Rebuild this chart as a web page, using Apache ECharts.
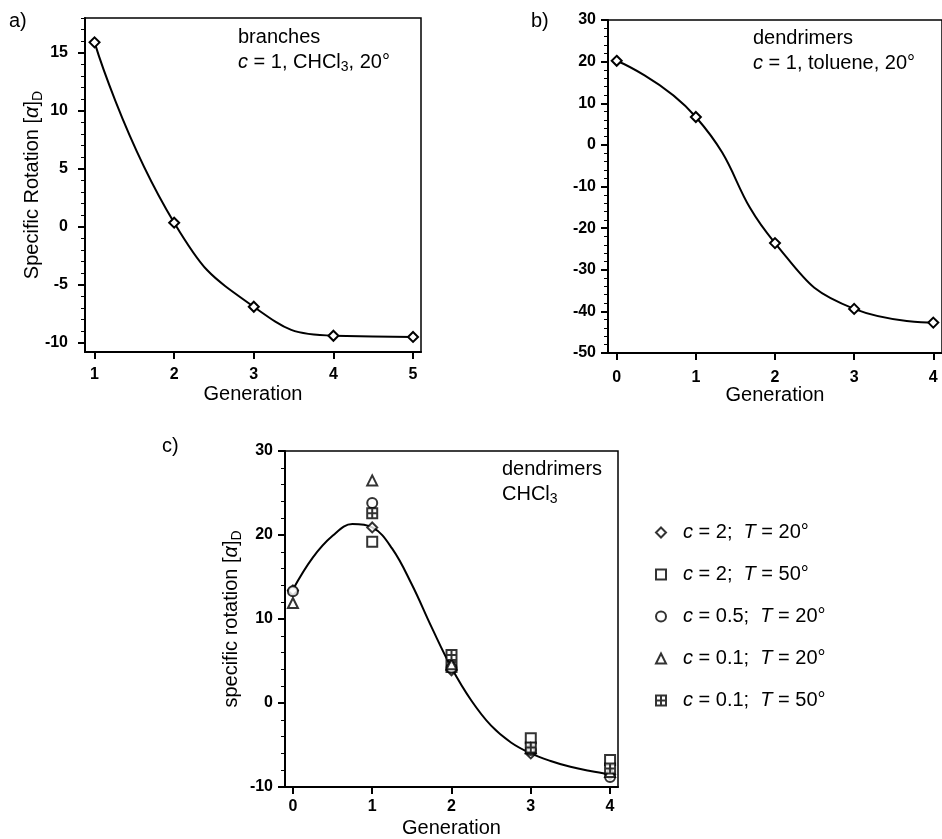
<!DOCTYPE html>
<html>
<head>
<meta charset="utf-8">
<script src="https://cdn.jsdelivr.net/npm/echarts@6/dist/echarts.min.js"></script>
<style>
html,body{margin:0;padding:0;background:#fff;}
#chart{width:942px;height:839px;}
</style>
</head>
<body>
<div id="chart"></div>
<script>
// ---------- Data ----------
// Panel a: branches, c = 1, CHCl3, 20°
const aGen = [1, 2, 3, 4, 5];
const aRot = [15.9, 0.35, -6.9, -9.4, -9.5];
// Panel b: dendrimers, c = 1, toluene, 20°
const bGen = [0, 1, 2, 3, 4];
const bRot = [20.2, 6.7, -23.6, -39.4, -42.7];
// Panel c: dendrimers, CHCl3
const cGen = [0, 1, 2, 3, 4];
const cC2T20 = [13.4, 20.9, 3.9, -6.0, -8.5];
const cC2T50 = [null, 19.2, 4.3, -4.2, -6.8];
const cC05T20 = [13.3, 23.8, 4.2, -5.6, -8.8];
const cC01T20 = [11.9, 26.5, 4.6, -5.4, -8.2];
const cC01T50 = [null, 22.6, 5.7, -5.3, -7.8];
// fitted curve of panel c
const cCurveX = [0, 0.25, 0.5, 0.75, 1.0, 1.25, 1.5, 1.75, 2.0, 2.25, 2.5, 2.75, 3.0, 3.25, 3.5, 3.75, 4.0];
const cCurveY = [13.5, 17.3, 19.9, 21.3, 20.9, 18.4, 14.1, 9.0, 4.2, 0.3, -2.7, -4.7, -6.0, -6.9, -7.6, -8.1, -8.5];
// legend
const legendConc = ['2', '2', '0.5', '0.1', '0.1'];
const legendTemp = ['20', '50', '20', '20', '50'];
const legendNames = ['c = 2; T = 20°', 'c = 2; T = 50°', 'c = 0.5; T = 20°', 'c = 0.1; T = 20°', 'c = 0.1; T = 50°'];
// ticks
const aXTicks = [1, 2, 3, 4, 5];
const aYTicks = [-10, -5, 0, 5, 10, 15];
const aYMinor = [-10, -9, -8, -7, -6, -5, -4, -3, -2, -1, 0, 1, 2, 3, 4, 5, 6, 7, 8, 9, 10, 11, 12, 13, 14, 15, 16, 17, 18];
const bXTicks = [0, 1, 2, 3, 4];
const bYTicks = [-50, -40, -30, -20, -10, 0, 10, 20, 30];
const bYMinor = [-50, -48, -46, -44, -42, -40, -38, -36, -34, -32, -30, -28, -26, -24, -22, -20, -18, -16, -14, -12, -10, -8, -6, -4, -2, 0, 2, 4, 6, 8, 10, 12, 14, 16, 18, 20, 22, 24, 26, 28, 30];
const cXTicks = [0, 1, 2, 3, 4];
const cYTicks = [-10, 0, 10, 20, 30];
const cYMinor = [-10, -8, -6, -4, -2, 0, 2, 4, 6, 8, 10, 12, 14, 16, 18, 20, 22, 24, 26, 28, 30];

// ---------- Styles ----------
const FONT = '"Liberation Sans", Arial, Helvetica, sans-serif';
const black = '#000';
const labelStyle = { color: black, fontFamily: FONT, fontWeight: 'bold', fontSize: 16 };
const subRich = {
  n: { fontFamily: FONT, fontSize: 20, lineHeight: 25, color: black },
  i: { fontFamily: FONT, fontSize: 20, lineHeight: 25, fontStyle: 'italic', color: black },
  s: { fontFamily: FONT, fontSize: 14, lineHeight: 14, verticalAlign: 'bottom', color: black }
};
const gfxRich = {
  n: { fontFamily: FONT, fontSize: 20, lineHeight: 25, fill: black },
  i: { fontFamily: FONT, fontSize: 20, lineHeight: 25, fontStyle: 'italic', fill: black },
  s: { fontFamily: FONT, fontSize: 14, lineHeight: 14, verticalAlign: 'bottom', fill: black }
};

function xAxis(grid, min, max, ticks, margin, name, nameGap) {
  return {
    type: 'value', gridIndex: grid, min: min, max: max,
    axisLine: { show: true, onZero: false, lineStyle: { color: black, width: 2 } },
    axisTick: { show: true, customValues: ticks, length: 7, lineStyle: { color: black, width: 2 } },
    axisLabel: Object.assign({ customValues: ticks, margin: margin }, labelStyle),
    splitLine: { show: false },
    name: name, nameLocation: 'middle', nameGap: nameGap, nameMoveOverlap: false,
    nameTextStyle: { color: black, fontFamily: FONT, fontSize: 20 }
  };
}
function yAxis(grid, min, max, ticks, margin, name, nameGap) {
  return {
    type: 'value', gridIndex: grid, min: min, max: max,
    axisLine: { show: true, onZero: false, lineStyle: { color: black, width: 2 } },
    axisTick: { show: true, customValues: ticks, length: 7, lineStyle: { color: black, width: 2 } },
    axisLabel: Object.assign({ customValues: ticks, margin: margin }, labelStyle),
    splitLine: { show: false },
    name: name, nameLocation: 'middle', nameGap: nameGap, nameRotate: 90, nameMoveOverlap: false,
    nameTextStyle: { color: black, fontFamily: FONT, fontSize: 20, rich: subRich }
  };
}
function yMinor(grid, min, max, ticks) {
  return {
    type: 'value', gridIndex: grid, min: min, max: max, position: 'left',
    axisLine: { show: false, onZero: false },
    axisTick: { show: true, customValues: ticks, length: 4, lineStyle: { color: black, width: 1 } },
    axisLabel: { show: false },
    splitLine: { show: false }
  };
}
const markStyle = { color: '#fff', borderColor: black, borderWidth: 2 };
const crossSquare = 'path://M0,0L10,0L10,10L0,10Z M5,0L5,10 M0,5L10,5';

function pairs(xs, ys) {
  const out = [];
  xs.forEach((x, i) => { if (ys[i] !== null) out.push([x, ys[i]]); });
  return out;
}
function scatter(name, ys, symbol, size) {
  return {
    name: name, type: 'scatter', xAxisIndex: 2, yAxisIndex: 2, z: 3,
    symbol: symbol, symbolSize: size,
    itemStyle: markStyle,
    data: pairs(cGen, ys)
  };
}

const option = {
  animation: false,
  backgroundColor: '#fff',
  grid: [
    { left: 85, top: 18, width: 336, height: 334, show: true, borderColor: black, borderWidth: 1.5, backgroundColor: 'transparent' },
    { left: 608, top: 20, width: 337, height: 333, show: true, borderColor: black, borderWidth: 1.5, backgroundColor: 'transparent' },
    { left: 285, top: 451, width: 333, height: 336, show: true, borderColor: black, borderWidth: 1.5, backgroundColor: 'transparent' }
  ],
  xAxis: [
    xAxis(0, 0.88, 5.1, aXTicks, 15, 'Generation', 32),
    xAxis(1, -0.11, 4.11, bXTicks, 17, 'Generation', 32),
    xAxis(2, -0.1, 4.1, cXTicks, 12, 'Generation', 31)
  ],
  yAxis: [
    yAxis(0, -10.8, 18, aYTicks, 17, '{n|Specific Rotation [}{i|α}{n|]}{s|D}', 40),
    yAxis(1, -50, 30, bYTicks, 12, '', 40),
    yAxis(2, -10, 30, cYTicks, 12, '{n|specific rotation [}{i|α}{n|]}{s|D}', 41),
    yMinor(0, -10.8, 18, aYMinor),
    yMinor(1, -50, 30, bYMinor),
    yMinor(2, -10, 30, cYMinor)
  ],
  legend: {
    data: legendNames,
    orient: 'vertical',
    left: 650, top: 515,
    itemWidth: 10, itemHeight: 10, itemGap: 17,
    textStyle: { fontFamily: FONT, fontSize: 20, color: black, lineHeight: 20, padding: [0, 0, 0, 12], rich: subRich },
    formatter: function (name) {
      const k = legendNames.indexOf(name);
      return '{i|c}{n| = ' + legendConc[k] + ';  }{i|T}{n| = ' + legendTemp[k] + '°}';
    }
  },
  graphic: [
    { type: 'text', left: 9, top: 11, style: { text: 'a)', fontFamily: FONT, fontSize: 20, fill: black } },
    { type: 'text', left: 531, top: 11, style: { text: 'b)', fontFamily: FONT, fontSize: 20, fill: black } },
    { type: 'text', left: 162, top: 436, style: { text: 'c)', fontFamily: FONT, fontSize: 20, fill: black } },
    { type: 'text', left: 238, top: 27, style: { text: '{n|branches}\n{i|c}{n| = 1, CHCl}{s|3}{n|, 20°}', rich: gfxRich, fontFamily: FONT, fontSize: 20, fill: black } },
    { type: 'text', left: 753, top: 28, style: { text: '{n|dendrimers}\n{i|c}{n| = 1, toluene, 20°}', rich: gfxRich, fontFamily: FONT, fontSize: 20, fill: black } },
    { type: 'text', left: 502, top: 459, style: { text: '{n|dendrimers}\n{n|CHCl}{s|3}', rich: gfxRich, fontFamily: FONT, fontSize: 20, fill: black } }
  ],
  series: [
    {
      type: 'line', xAxisIndex: 0, yAxisIndex: 0, smooth: true,
      symbol: 'diamond', symbolSize: 10, showSymbol: true,
      lineStyle: { color: black, width: 2 }, itemStyle: markStyle,
      data: pairs(aGen, aRot)
    },
    {
      type: 'line', xAxisIndex: 1, yAxisIndex: 1, smooth: true,
      symbol: 'diamond', symbolSize: 10, showSymbol: true,
      lineStyle: { color: black, width: 2 }, itemStyle: markStyle,
      data: pairs(bGen, bRot)
    },
    {
      type: 'line', xAxisIndex: 2, yAxisIndex: 2, smooth: 0.4, z: 1,
      showSymbol: false, symbol: 'none',
      lineStyle: { color: black, width: 2 },
      data: pairs(cCurveX, cCurveY)
    },
    scatter(legendNames[0], cC2T20, 'diamond', 10),
    scatter(legendNames[1], cC2T50, 'rect', 10),
    scatter(legendNames[2], cC05T20, 'circle', 10),
    scatter(legendNames[3], cC01T20, 'triangle', 10),
    scatter(legendNames[4], cC01T50, crossSquare, 10)
  ]
};

const chart = echarts.init(document.getElementById('chart'), null, { renderer: 'canvas' });
chart.setOption(option);
</script>
</body>
</html>
